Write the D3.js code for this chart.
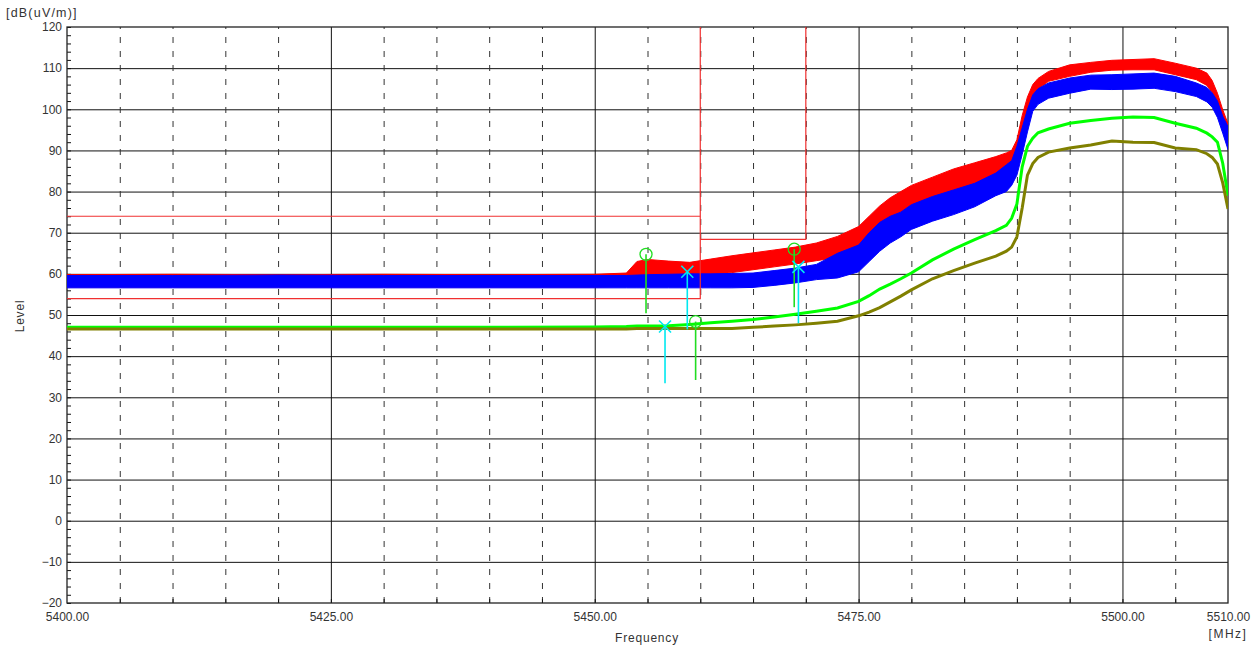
<!DOCTYPE html>
<html><head><meta charset="utf-8">
<script src="https://cdn.jsdelivr.net/npm/d3@7"></script>
<style>
body{margin:0;background:#fff;}
svg text{font-family:"Liberation Sans",Arial,sans-serif;fill:#333;}
</style></head>
<body><svg id="c" width="1260" height="648"></svg>
<script>
// ---------- data ----------
const freq = [5400,5410,5420,5430,5440,5450,5453,5454,5455,5457,5459,5461,5463,5465,5467,5469,5471,5473,5475,5476,5477,5478,5479,5480,5482,5484,5486,5488,5489,5489.5,5490,5490.5,5491,5491.5,5492,5493,5495,5497,5499,5501,5503,5505,5507,5508,5508.5,5509,5509.5,5510];
const redHi  = [59.8,59.9,59.8,59.9,59.8,59.9,60.2,63.0,63.5,63.1,62.8,63.6,64.4,65.1,65.8,66.5,67.5,69.1,71.5,74.0,76.5,78.5,80.0,81.5,83.5,85.5,87.0,88.5,89.4,90.0,92.6,98.5,103.0,106.0,107.5,109.2,110.8,111.4,111.9,112.1,112.3,111.2,110.0,108.8,107.0,103.9,99.9,96.5];
const redLo  = [56.8,56.8,56.8,56.8,56.8,56.8,57.0,58.5,59.0,59.3,59.4,59.8,60.3,61.0,61.7,62.4,63.2,64.0,65.5,68.0,70.5,73.5,75.0,76.0,78.0,79.8,81.5,83.3,85.5,86.5,87.7,93.0,98.5,102.5,104.8,106.8,108.0,109.0,109.5,109.6,109.6,108.4,107.2,105.8,104.0,100.7,96.6,93.5];
const blueHi = [59.6,59.6,59.7,59.6,59.6,59.6,59.6,59.7,59.8,59.9,60.0,60.0,60.1,60.2,60.8,61.4,62.3,65.0,67.0,70.0,72.5,74.0,75.0,76.8,78.8,80.4,82.0,84.5,86.5,87.5,91.0,95.5,100.0,103.5,105.0,106.4,107.6,108.3,108.4,108.6,108.8,108.0,106.4,105.3,104.0,102.0,98.3,95.8];
const blueLo = [56.6,56.6,56.6,56.6,56.6,56.6,56.6,56.6,56.6,56.6,56.6,56.6,56.6,56.7,57.2,57.8,58.6,59.0,60.5,63.0,65.5,67.5,69.0,70.8,72.8,74.4,76.3,79.0,80.0,81.5,84.0,89.0,94.5,99.5,101.2,102.7,103.9,104.9,104.8,104.9,105.1,104.3,103.1,101.8,100.5,98.0,94.2,90.2];
const green  = [47.0,47.0,47.0,47.0,47.0,47.1,47.2,47.3,47.3,47.4,47.7,48.1,48.5,48.9,49.5,50.2,50.9,51.7,53.3,54.7,56.3,57.5,58.8,60.2,63.4,66.0,68.3,70.5,71.8,73.5,77.0,86.0,91.0,93.0,94.3,95.2,96.6,97.3,97.8,98.1,98.0,96.6,95.4,94.2,93.3,92.0,86.9,79.0];
const olive  = [46.6,46.6,46.6,46.6,46.6,46.6,46.6,46.7,46.7,46.7,46.7,46.7,46.7,47.0,47.3,47.6,48.0,48.5,49.8,50.7,51.8,53.2,54.6,56.1,58.8,60.8,62.6,64.3,65.5,66.5,69.0,76.0,84.0,86.8,88.3,89.6,90.6,91.3,92.3,92.0,91.9,90.6,90.2,89.2,88.3,86.7,82.1,75.8];

const limitAFreq = [5400,5460],            limitALevel = [74,74];
const limitBFreq = [5400,5460,5460],       limitBLevel = [54,54,120];
const limitCFreq = [5460,5470,5470],       limitCLevel = [68.4,68.4,120];

const markerType  = ["circle","x","x","circle","circle","x"];
const markerFreq  = [5454.86,5458.77,5456.66,5459.56,5468.9,5469.3];
const markerLevel = [64.75,60.5,47.2,48.4,66.0,61.7];
const markerLow   = [50.4,46.5,33.4,34.2,51.9,48.0];

const yTicks = [120,110,100,90,80,70,60,50,40,30,20,10,0,-10,-20];
const xLabelTicks = [5400,5425,5450,5475,5500,5510];
const xGridTicks = d3.range(5405,5510,5);

// ---------- layout ----------
const L=67,R=1228,T=27,B=603;
const svg = d3.select("#c");
const x = d3.scaleLinear().domain([5400,5510]).range([L,R]);
const y = d3.scaleLinear().domain([-20,120]).range([B,T]);

// horizontal grid
const hg = svg.append("g").attr("transform",`translate(${L},0)`)
  .call(d3.axisLeft(y).tickValues(yTicks.filter(d=>d>-20&&d<120)).tickSize(-(R-L)).tickFormat(""));
hg.select(".domain").remove();
hg.selectAll("line").attr("stroke","#111").attr("stroke-width",1);

// vertical grid
const vg = svg.append("g").attr("transform",`translate(0,${B})`)
  .call(d3.axisBottom(x).tickValues(xGridTicks).tickSize(-(B-T)).tickFormat(""));
vg.select(".domain").remove();
vg.selectAll("line").attr("stroke",d=> d%25===0 ? "#111" : "#333")
  .attr("stroke-dasharray",d=> d%25===0 ? null : "6,8").attr("stroke-width",1);

// minor ticks y (every 2 dB)
const mt = svg.append("g").attr("transform",`translate(${L},0)`)
  .call(d3.axisRight(y).tickValues(d3.range(-20,121,2)).tickSize(4).tickFormat(""));
mt.select(".domain").remove();
mt.selectAll("line").attr("stroke","#111");
// minor ticks x
const mx = svg.append("g").attr("transform",`translate(0,${B})`)
  .call(d3.axisTop(x).tickValues(xGridTicks).tickSize(4).tickFormat(""));
mx.select(".domain").remove();
mx.selectAll("line").attr("stroke","#111");

// border
svg.append("rect").attr("x",L).attr("y",T).attr("width",R-L).attr("height",B-T)
  .attr("fill","none").attr("stroke","#222").attr("stroke-width",1.3);

// y labels
const ya = svg.append("g").attr("transform",`translate(${L},0)`)
  .call(d3.axisLeft(y).tickValues(yTicks).tickSize(0).tickPadding(5)
    .tickFormat(d=> d<0 ? "\u2212"+(-d) : String(d)));
ya.select(".domain").remove();
ya.selectAll("text").attr("font-size",12).attr("fill","#333");

// x labels
const xa = svg.append("g").attr("transform",`translate(0,${B})`)
  .call(d3.axisBottom(x).tickValues(xLabelTicks).tickSize(0).tickPadding(9).tickFormat(d3.format(".2f")));
xa.select(".domain").remove();
xa.selectAll("text").attr("font-size",12).attr("fill","#333");

// traces
const idx = d3.range(freq.length);
const area = (hi,lo)=> d3.area().x(i=>x(freq[i])).y0(i=>y(lo[i])).y1(i=>y(hi[i]));
const line = (v)=> d3.line().x(i=>x(freq[i])).y(i=>y(v[i]));
const clip = svg.append("clipPath").attr("id","pc").append("rect")
  .attr("x",L).attr("y",T).attr("width",R-L).attr("height",B-T);
const tr = svg.append("g").attr("clip-path","url(#pc)");
tr.append("path").attr("d",area(redHi,redLo)(idx)).attr("fill","#ff0000").attr("stroke","#ff0000").attr("stroke-width",1);
tr.append("path").attr("d",area(blueHi,blueLo)(idx)).attr("fill","#0000ff").attr("stroke","#0000ff").attr("stroke-width",1);
tr.append("path").attr("d",line(green)(idx)).attr("fill","none").attr("stroke","#00ff00").attr("stroke-width",3);
tr.append("path").attr("d",line(olive)(idx)).attr("fill","none").attr("stroke","#808000").attr("stroke-width",3);

// limit lines
const ll = d3.line().x(d=>x(d[0])).y(d=>y(d[1]));
[[limitAFreq,limitALevel],[limitBFreq,limitBLevel],[limitCFreq,limitCLevel]].forEach(([f,l])=>{
  tr.append("path").attr("d",ll(f.map((v,i)=>[v,l[i]]))).attr("fill","none").attr("stroke","#f03030").attr("stroke-width",1.2);
});

// markers
markerType.forEach((t,i)=>{
  const cx=x(markerFreq[i]), cy=y(markerLevel[i]);
  const col = t==="circle" ? "#22dd22" : "#00e8f0";
  svg.append("line").attr("x1",cx).attr("x2",cx).attr("y1",cy).attr("y2",y(markerLow[i]))
    .attr("stroke",col).attr("stroke-width",1.6);
  if(t==="circle"){
    svg.append("circle").attr("cx",cx).attr("cy",cy).attr("r",6).attr("fill","none").attr("stroke",col).attr("stroke-width",1.3);
  } else {
    const s=6;
    svg.append("path").attr("d",`M${cx-s},${cy-s}L${cx+s},${cy+s}M${cx-s},${cy+s}L${cx+s},${cy-s}`)
      .attr("stroke",col).attr("stroke-width",1.6);
  }
});

// titles
svg.append("text").attr("x",6).attr("y",17).attr("font-size",12.5).attr("letter-spacing",1.2).text("[dB(uV/m)]");
svg.append("text").attr("transform","translate(24,316) rotate(-90)").attr("text-anchor","middle")
  .attr("font-size",12).attr("letter-spacing",0.8).text("Level");
svg.append("text").attr("x",647).attr("y",642).attr("text-anchor","middle")
  .attr("font-size",12).attr("letter-spacing",0.8).text("Frequency");
svg.append("text").attr("x",1228).attr("y",638).attr("text-anchor","middle")
  .attr("font-size",12).attr("letter-spacing",1.5).text("[MHz]");
</script></body></html>
